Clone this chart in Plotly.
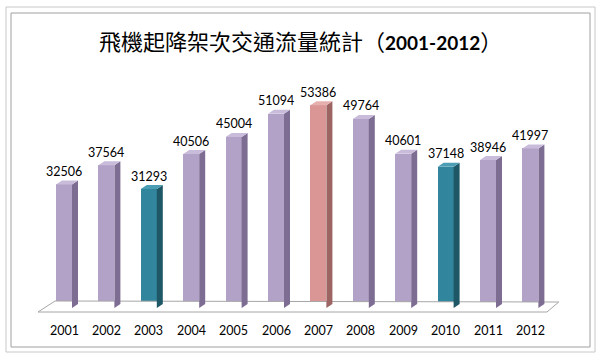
import plotly.graph_objects as go

years = ["2001", "2002", "2003", "2004", "2005", "2006", "2007", "2008", "2009", "2010", "2011", "2012"]
flights = [32506, 37564, 31293, 40506, 45004, 51094, 53386, 49764, 40601, 37148, 38946, 41997]
kinds = ["p", "p", "t", "p", "p", "p", "r", "p", "p", "t", "p", "p"]
title_zh = "飛機起降架次交通流量統計"
title_years = "2001-2012"

palette = {
    "p": ("#B3A2C7", "#7E6D93", "#C9BBDA"),
    "t": ("#31859C", "#1E5866", "#4A9DB3"),
    "r": ("#D99694", "#9C6563", "#E6B0AE"),
}

W, H = 600, 362
px_per_cat = 42.4
x0_px = 64.0
base_px = 308.0
px_per_unit = 3.8 / 1000.0

x_range = [-x0_px / px_per_cat, (W - x0_px) / px_per_cat]
y_range = [-(H - base_px) / px_per_unit, base_px / px_per_unit]

bw = 16 / px_per_cat
dx = 6 / px_per_cat
dy = 4 / px_per_unit

fig = go.Figure()

# floor
fx = [-0.613, -0.212, 11.67, 11.39, -0.613]
fy = [-1053, 1842, 1579, -1053, -1053]
fig.add_trace(go.Scatter(x=fx, y=fy, mode="lines", fill="toself", fillcolor="white",
                         line=dict(color="#A6A6A6", width=1), hoverinfo="skip", showlegend=False))

for i, (v, k) in enumerate(zip(flights, kinds)):
    front, side, top = palette[k]
    xl, xr = i - bw / 2, i + bw / 2
    fig.add_trace(go.Scatter(x=[xr, xr + dx, xr + dx, xr, xr], y=[0, dy, v + dy, v, 0],
                             mode="lines", fill="toself", fillcolor=side, line=dict(width=0, color=side),
                             hoverinfo="skip", showlegend=False))
    fig.add_trace(go.Scatter(x=[xl, xl + dx, xr + dx, xr, xl], y=[v, v + dy, v + dy, v, v],
                             mode="lines", fill="toself", fillcolor=top, line=dict(width=0, color=top),
                             hoverinfo="skip", showlegend=False))

fig.add_trace(go.Bar(x=list(range(len(years))), y=flights, width=bw,
                     marker=dict(color=[palette[k][0] for k in kinds], line=dict(width=0)),
                     showlegend=False, hoverinfo="skip"))

lab_font = dict(size=12.5, color="#000000", family="Lato, Liberation Sans, sans-serif")
for i, v in enumerate(flights):
    fig.add_annotation(x=i, y=v, text=str(v), showarrow=False, yanchor="middle", yshift=13, font=lab_font)
for i, yr in enumerate(years):
    fig.add_annotation(x=i, y=-22 / px_per_unit, text=yr, showarrow=False, yanchor="middle", font=lab_font)

title_text = (title_zh + "（<span style='font-family:Lato, Liberation Sans, sans-serif;font-size:19px'><b>"
              + title_years + "</b></span>）")
fig.add_annotation(x=300 / W, y=1 - 40 / H, xref="paper", yref="paper", text=title_text, showarrow=False,
                   xanchor="center", yanchor="middle",
                   font=dict(size=22, color="#000000", family="Noto Sans CJK TC, Noto Sans CJK SC, sans-serif"))

# chart frame
fig.add_shape(type="rect", xref="paper", yref="paper", x0=6 / W, x1=595 / W, y0=1 - 352 / H, y1=1 - 7 / H,
              line=dict(color="#C8C8C8", width=1))
fig.add_shape(type="rect", xref="paper", yref="paper", x0=11 / W, x1=590 / W, y0=1 - 347 / H, y1=1 - 13 / H,
              line=dict(color="#A0A0A0", width=1))

fig.update_layout(
    width=W, height=H, margin=dict(l=0, r=0, t=0, b=0),
    paper_bgcolor="white", plot_bgcolor="white", bargap=0,
    xaxis=dict(range=x_range, visible=False, fixedrange=True),
    yaxis=dict(range=y_range, visible=False, fixedrange=True),
)

fig.write_html("out.html", config={"displayModeBar": False},
               post_script="document.body.style.margin='0';document.body.style.overflow='hidden';")
